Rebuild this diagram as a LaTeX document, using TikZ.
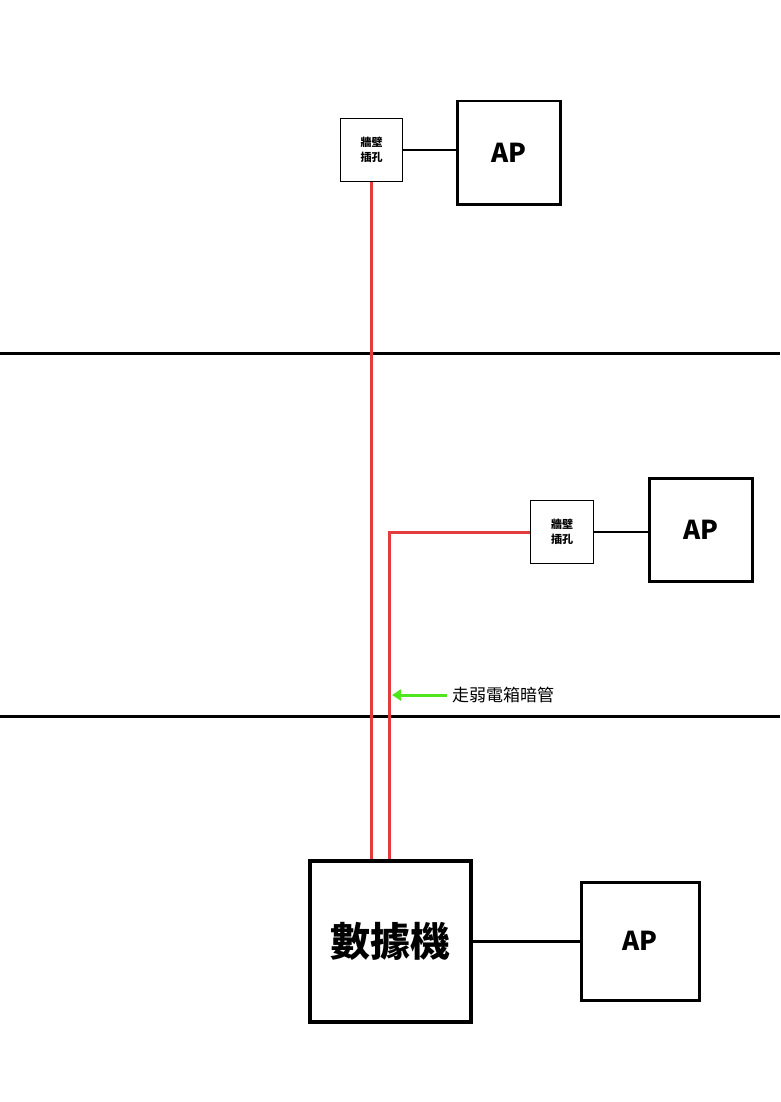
\documentclass[tikz,border=0pt]{standalone}
\usepackage{fontspec}
\setmainfont{Noto Sans CJK TC}
\usetikzlibrary{arrows.meta}
\definecolor{wred}{RGB}{228,60,60}
\definecolor{wgreen}{RGB}{80,230,30}
\tikzset{
 box/.style={draw,line width=2.5pt,inner sep=0pt,anchor=north west,font=\bfseries},
 sock/.style={draw,line width=1.2pt,inner sep=0pt,anchor=north west,font=\bfseries\fontsize{11}{15}\selectfont,align=center},
 apbox/.style={box,font=\bfseries\fontsize{26}{30}\selectfont},
 wire/.style={line width=2.5pt},
 redwire/.style={draw=wred,line width=3pt},
}
\begin{document}
\begin{tikzpicture}[x=1pt,y=-1pt]
\useasboundingbox[fill=white] (0,0) rectangle (780,1102);
\node[sock,minimum width=62pt,minimum height=63pt] (s1) at (340,118) {牆壁\\插孔};
\node[apbox,minimum width=103pt,minimum height=103pt] (ap1) at (456,100) {AP};
\node[sock,minimum width=63pt,minimum height=63pt] (s2) at (530,500) {牆壁\\插孔};
\node[apbox,minimum width=103pt,minimum height=103pt] (ap2) at (648,477) {AP};
\node[box,line width=4pt,minimum width=161pt,minimum height=161pt,font=\bfseries\fontsize{40}{46}\selectfont] (m) at (308,859) {數據機};
\node[apbox,minimum width=118pt,minimum height=118pt] (ap3) at (580,881) {AP};
\draw[wire] (s1.east) -- (s1.east -| ap1.west);
\draw[wire] (s2.east) -- (s2.east -| ap2.west);
\draw[wire] (m.east |- ap3.west) -- (ap3.west);
\draw[line width=3pt] (0,353) -- (780,353);
\draw[line width=3pt] (0,716) -- (780,716);
\draw[redwire] (s1.south -| 371,0) -- (m.north -| 371,0);
\draw[redwire] (m.north -| 389,0) -- (s2.west -| 389,0) -- (s2.west);
\coordinate (ga) at (447,695);
\coordinate (gb) at (392,695);
\draw[draw=wgreen,line width=3pt,-{Triangle[length=9pt,width=11pt,fill=wgreen]}] (ga) -- (gb);
\node[anchor=west,font=\fontsize{17}{20}\selectfont,inner sep=0pt] (lbl) at (452,695) {走弱電箱暗管};
\end{tikzpicture}
\end{document}
